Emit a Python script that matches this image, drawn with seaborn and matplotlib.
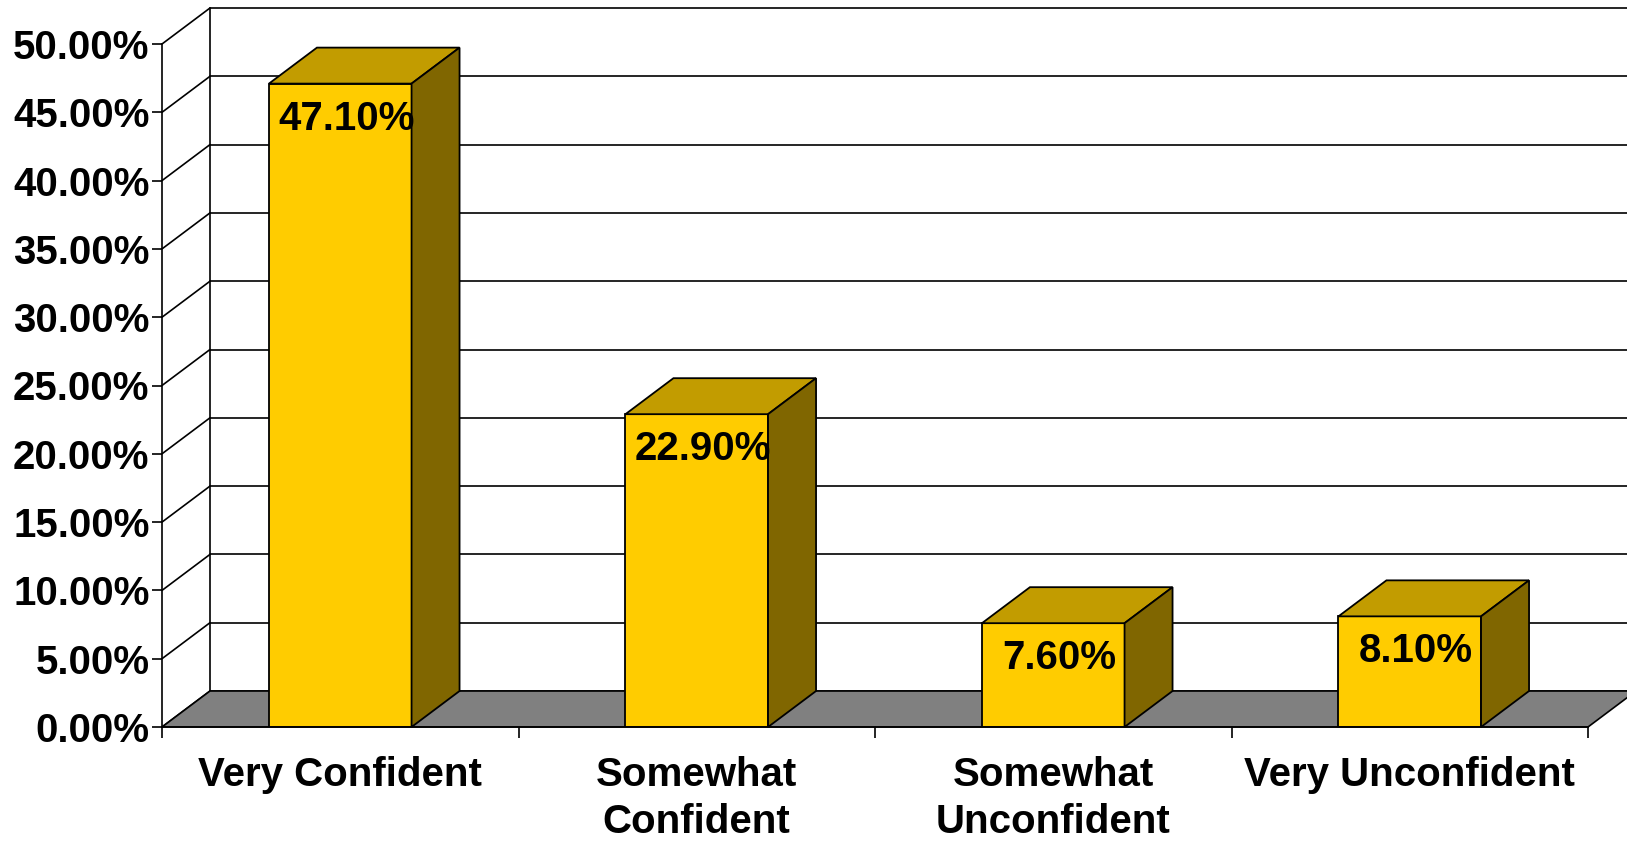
import numpy as np
import matplotlib
matplotlib.use("Agg")
import matplotlib.pyplot as plt
from matplotlib.patches import Polygon
import seaborn as sns

categories = ["Very Confident", "Somewhat\nConfident", "Somewhat\nUnconfident", "Very Unconfident"]
values = [47.10, 22.90, 7.60, 8.10]
yticks = [0, 5, 10, 15, 20, 25, 30, 35, 40, 45, 50]

sns.set_style("white")
plt.rcParams["font.family"] = ["Liberation Sans", "DejaVu Sans"]
plt.rcParams["font.weight"] = "bold"
plt.rcParams["text.color"] = "black"
plt.rcParams["xtick.color"] = "black"
plt.rcParams["ytick.color"] = "black"
plt.rcParams["axes.labelcolor"] = "black"

front = "#FFCC00"
top_col = "#C29C00"
side_col = "#806600"
floor_col = "#808080"
fs = 29

fig = plt.figure(figsize=(16.27, 8.41), dpi=100)
ax = fig.add_axes([162 / 1627, 1 - 727 / 841, (1588 - 162) / 1627, (727 - 44) / 841])

sns.barplot(x=categories, y=values, color=front, saturation=1, width=0.4,
            edgecolor="black", linewidth=1.3, ax=ax, zorder=3)

ax.set_xlim(-0.5, len(categories) - 0.5)
ax.set_ylim(0, 50)

# depth offset of the 3d look (48 px right, 36 px up) in data units
p0 = ax.transData.inverted().transform(ax.transData.transform((0, 0)) + np.array([48, 36]))
ddx, ddy = p0[0], p0[1]

x_lo, x_hi = -0.5, len(categories) - 0.5

# back wall gridlines + side wall diagonals
for v in yticks:
    ax.plot([x_lo + ddx, x_hi + ddx + 1], [v + ddy, v + ddy], color="black", lw=1.2, zorder=0.5, clip_on=False)
    ax.plot([x_lo, x_lo + ddx], [v, v + ddy], color="black", lw=1.2, zorder=0.5, clip_on=False)
ax.plot([x_lo + ddx, x_lo + ddx], [ddy, 50 + ddy], color="black", lw=1.2, zorder=0.5, clip_on=False)

# floor
floor = Polygon([(x_lo, 0), (x_hi, 0), (x_hi + ddx, ddy), (x_lo + ddx, ddy)],
                closed=True, facecolor=floor_col, edgecolor="black", lw=1.2, zorder=1, clip_on=False)
ax.add_patch(floor)

# top and side faces of the bars
for bar, v in zip(list(ax.patches)[:len(values)], values):
    x0 = bar.get_x()
    x1 = x0 + bar.get_width()
    h = bar.get_height()
    top = Polygon([(x0, h), (x1, h), (x1 + ddx, h + ddy), (x0 + ddx, h + ddy)],
                  closed=True, facecolor=top_col, edgecolor="black", lw=1.3, zorder=3, clip_on=False)
    side = Polygon([(x1, 0), (x1 + ddx, ddy), (x1 + ddx, h + ddy), (x1, h)],
                   closed=True, facecolor=side_col, edgecolor="black", lw=1.3, zorder=3, clip_on=False)
    ax.add_patch(top)
    ax.add_patch(side)
    ax.annotate(f"{v:.2f}%", (x0 + bar.get_width() / 2, h), xytext=(6, -35),
                textcoords="offset pixels", ha="center", va="center",
                fontsize=fs, fontweight="bold", color="black", zorder=5)

for s in ["top", "right"]:
    ax.spines[s].set_visible(False)
for s in ["left", "bottom"]:
    ax.spines[s].set_color("black")
    ax.spines[s].set_linewidth(1.2)
    ax.spines[s].set_zorder(4)

ax.set_yticks(yticks)
ax.set_yticklabels([f"{v:.2f}%" for v in yticks], fontsize=fs, fontweight="bold")
ax.tick_params(axis="y", direction="out", length=7, width=1.2, pad=2, left=True)

ax.set_xticks(range(len(categories)))
ax.set_xticklabels(categories, fontsize=fs, fontweight="bold", linespacing=1.3)
ax.set_xticks(np.arange(-0.5, len(categories), 1.0), minor=True)
ax.tick_params(axis="x", which="major", length=0, pad=21)
ax.tick_params(axis="x", which="minor", direction="out", length=8, width=1.2, bottom=True)

ax.set_xlabel("")
ax.set_ylabel("")
ax.grid(False)
ax.set_facecolor("none")

fig.savefig("out.png", dpi=100)
